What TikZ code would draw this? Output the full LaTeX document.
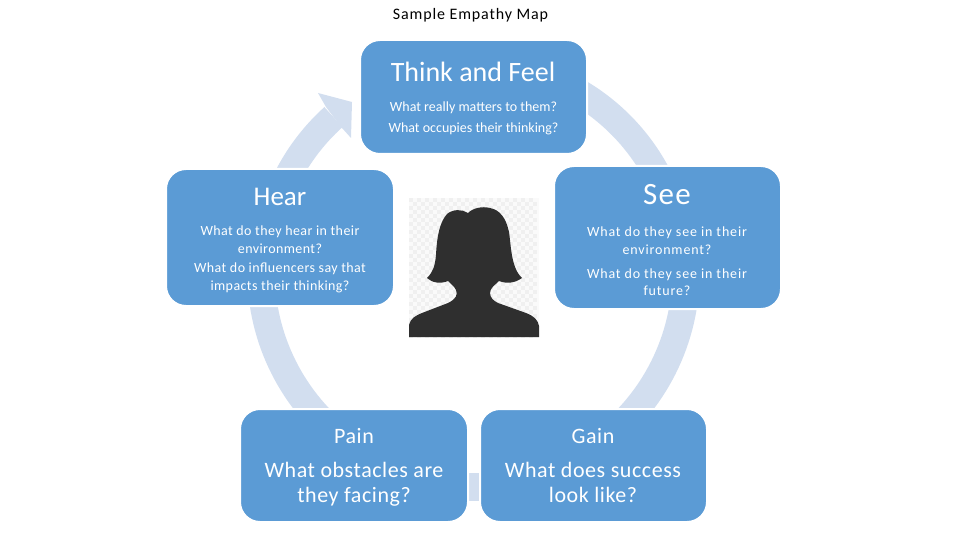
\documentclass[tikz,border=0pt]{standalone}
\usepackage{fontspec}
\setmainfont{Carlito}
\definecolor{boxblue}{HTML}{5B9BD5}
\definecolor{ringblue}{HTML}{D2DEEF}
\definecolor{hairgrey}{HTML}{2F2F2F}
\definecolor{checkgrey}{HTML}{F0F0F0}
\tikzset{
  mapbox/.style={fill=boxblue,draw=white,line width=2pt,outer sep=-1pt,rounded corners=20pt,anchor=north west,inner sep=0pt},
  ringarc/.style={draw=ringblue,line width=27pt},
  lowarc/.style={draw=ringblue,line width=27.5pt},
  headtext/.style={text=white,align=center},
  bodytext/.style={text=white,align=center,font=\fontsize{14}{17.5}\selectfont\addfontfeature{LetterSpace=3}},
  seetext/.style={text=white,align=center,font=\fontsize{14}{17.5}\selectfont\addfontfeature{LetterSpace=6}},
  bigtext/.style={text=white,align=center,font=\fontsize{22}{25}\selectfont\addfontfeature{LetterSpace=2.5}}
}
\begin{document}
\begin{tikzpicture}[x=1pt,y=-1pt]
\useasboundingbox (0,0) rectangle (960,540);
%anneau
\draw[ringarc] plot[domain=62:20,samples=25] ({473+208.5*cos(\x)},{272-208.5*sin(\x)});
\draw[lowarc] plot[domain=-5:-45,samples=25] ({473+213*cos(\x)},{272-213*sin(\x)});
\draw[lowarc] plot[domain=185:225,samples=25] ({473+212*cos(\x)},{272-212*sin(\x)});
\draw[ringarc] plot[domain=155:132,samples=25] ({473+208.5*cos(\x)},{272-208.5*sin(\x)});
\fill[ringblue] (326,107) -- (318,93) -- (352,102) -- (351,138) -- (342,128) -- cycle;
\fill[ringblue] (469,473) rectangle (479,501);
%titre
\node[font=\fontsize{16}{18}\selectfont\addfontfeature{LetterSpace=5.5}] (title) at (470.5,15) {Sample Empathy Map};
%cases
\node[mapbox,minimum width=227pt,minimum height=114pt] (thinkbox) at (361,41) {};
\node[mapbox,minimum width=227pt,minimum height=143pt] (seebox) at (555,167) {};
\node[mapbox,minimum width=228pt,minimum height=137pt] (hearbox) at (167,170) {};
\node[mapbox,minimum width=228pt,minimum height=113pt] (painbox) at (241,410) {};
\node[mapbox,minimum width=227pt,minimum height=113pt] (gainbox) at (481,410) {};
%textes
\node[headtext,font=\fontsize{28}{30}\selectfont] (thinkhead) at (473,72) {Think and Feel};
\node[text=white,align=center,font=\fontsize{14}{21}\selectfont] (thinkbody) at (473.5,118) {What really matters to them?\\What occupies their thinking?};
\node[headtext,font=\fontsize{31}{30}\selectfont\addfontfeature{LetterSpace=4}] (seehead) at (667,194.5) {See};
\node[seetext] (seeone) at (667,240.5) {What do they see in their\\environment?};
\node[seetext] (seetwo) at (667,282) {What do they see in their\\future?};
\node[headtext,font=\fontsize{27}{30}\selectfont] (hearhead) at (280,197) {Hear};
\node[bodytext] (hearone) at (280,239.5) {What do they hear in their\\environment?};
\node[bodytext] (heartwo) at (280,278) {What do influencers say that\\impacts their thinking?};
\node[bigtext] (painhead) at (354,436) {Pain};
\node[bigtext] (painbody) at (354,484) {What obstacles are\\they facing?};
\node[bigtext] (gainhead) at (593,436) {Gain};
\node[bigtext] (gainbody) at (593,482) {What does success\\look like?};
%portrait
\fill[checkgrey!30] (409,198) rectangle (539,338);
\foreach \a in {0,...,31}
  \foreach \b in {0,...,34}
    {\pgfmathparse{int(mod(\a+\b,2))}
     \ifnum\pgfmathresult=0 \fill[checkgrey] (409+4*\a,198+4*\b) rectangle ++(4,4); \fi}
\fill[hairgrey] (409,337) -- (409,325) .. controls (411,318) and (415,316) .. (422,313)
  -- (448,303) .. controls (456,299) and (458,295) .. (456,290)
  .. controls (454,286) and (451,284) .. (448,281)
  .. controls (441,284) and (432,283) .. (427,278)
  .. controls (433,272) and (435,266) .. (436,255)
  .. controls (437,235) and (440,222) .. (447,214)
  .. controls (453,209) and (462,209) .. (468,213)
  .. controls (473,208) and (482,206) .. (490,208)
  .. controls (500,210) and (506,218) .. (509,232)
  .. controls (511,245) and (511,268) .. (522,278)
  .. controls (515,283) and (507,284) .. (499,281)
  .. controls (495,285) and (490,288) .. (490,293)
  .. controls (490,298) and (494,301) .. (498,303)
  -- (526,313) .. controls (534,316) and (538,320) .. (539,326)
  -- (539,337) -- cycle;
\end{tikzpicture}
\end{document}
